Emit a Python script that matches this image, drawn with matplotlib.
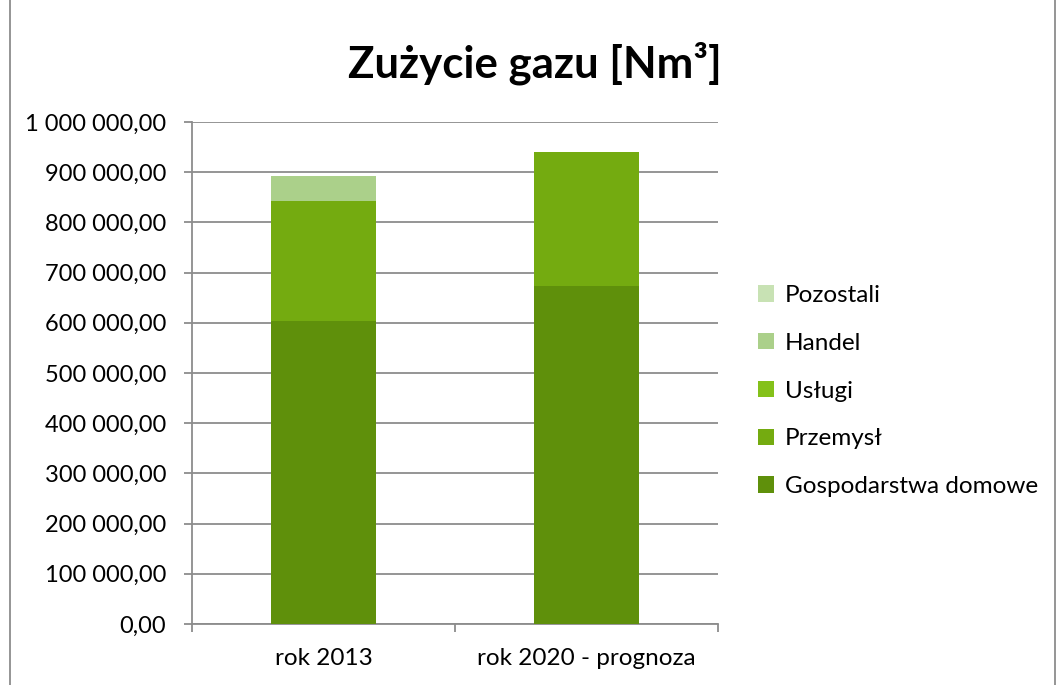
import numpy as np
import matplotlib.pyplot as plt
from matplotlib.ticker import FuncFormatter, MultipleLocator
from matplotlib.lines import Line2D
from matplotlib.patches import Patch

plt.rcParams['font.family'] = ['Lato', 'DejaVu Sans']

# Data
categories = ['rok 2013', 'rok 2020 - prognoza']
series_names = ['Gospodarstwa domowe', 'Przemysł', 'Usługi', 'Handel', 'Pozostali']
gospodarstwa = [603000, 673000]
przemysl = [240000, 267000]
uslugi = [0, 0]
handel = [50000, 0]
pozostali = [0, 0]
colors = ['#5f900b', '#74ab10', '#84c11a', '#abd08a', '#c8e2b4']

values = [gospodarstwa, przemysl, uslugi, handel, pozostali]

fig = plt.figure(figsize=(10.6, 6.85), dpi=100)
ax = fig.add_axes([192 / 1060, 61 / 685, 526 / 1060, 502 / 685])

x = np.arange(len(categories))
bottom = np.zeros(len(categories))
for name, vals, col in zip(series_names, values, colors):
    ax.bar(x, vals, width=0.4, bottom=bottom, color=col, label=name,
           edgecolor='none', zorder=3)
    bottom += np.array(vals)

ax.set_xlim(-0.5, 1.5)
ax.set_ylim(0, 1000000)
ax.yaxis.set_major_locator(MultipleLocator(100000))


def fmt(v, pos):
    s = f'{v:,.2f}'
    return s.replace(',', ' ').replace('.', ',')


ax.yaxis.set_major_formatter(FuncFormatter(fmt))
ax.grid(axis='y', color='#8c8c8c', linewidth=1.3, zorder=0)
ax.set_axisbelow(True)

# x axis: ticks between categories, labels centered on bars
ax.set_xticks([-0.5, 0.5, 1.5])
ax.set_xticklabels([])
ax.set_xticks(x, minor=True)
ax.set_xticklabels(categories, minor=True)
ax.tick_params(axis='x', which='minor', length=0, pad=17, labelsize=17.5)
ax.tick_params(axis='x', which='major', length=6, width=1.3, color='#8c8c8c', direction='out')
ax.tick_params(axis='y', length=5.5, width=1.3, color='#8c8c8c', labelsize=17, pad=13)

for side in ['top', 'right']:
    ax.spines[side].set_visible(False)
for side in ['left', 'bottom']:
    ax.spines[side].set_color('#8c8c8c')
    ax.spines[side].set_linewidth(1.3)

fig.text(535 / 1060, 1 - 63 / 685, 'Zużycie gazu [Nm³]', ha='center', va='center',
         fontsize=31.5, fontweight='bold')

handles = [Patch(facecolor=c, edgecolor='none') for c in colors]
fig.legend(handles[::-1], series_names[::-1], loc='center left',
           bbox_to_anchor=(736 / 1060, 1 - 391 / 685), frameon=False,
           fontsize=17.5, handlelength=0.65, handleheight=0.65, handletextpad=0.45,
           labelspacing=1.1)

# chart area border
fig.add_artist(Line2D([10 / 1060, 10 / 1060], [0, 1], color='#8c8c8c', linewidth=1.3))
fig.add_artist(Line2D([1055 / 1060, 1055 / 1060], [0, 1], color='#8c8c8c', linewidth=1.3))

fig.savefig('out.png', dpi=100)
